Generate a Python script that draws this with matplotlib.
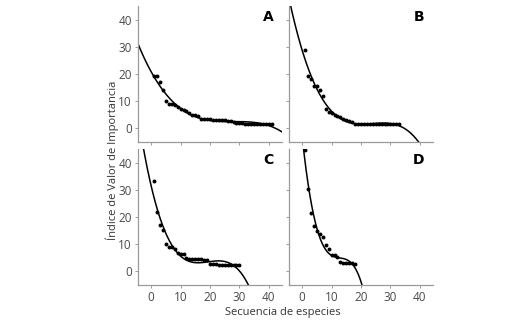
import numpy as np
import matplotlib
matplotlib.use("Agg")
import matplotlib.pyplot as plt

plt.rcParams['font.family'] = ['Open Sans', 'DejaVu Sans']

x_a = list(range(1, 42))
y_a = [19.4, 19.3, 17.0, 14.0, 10.0, 9.0, 8.8, 8.6, 7.8, 7.3,
       6.8, 6.3, 5.5, 5.0, 4.8, 4.6, 3.6, 3.5, 3.4, 3.3,
       3.2, 3.2, 3.1, 3.0, 3.0, 2.9, 2.8, 2.2, 2.0, 1.9,
       1.9, 1.8, 1.8, 1.8, 1.8, 1.7, 1.7, 1.6, 1.6, 1.6, 1.5]

x_b = list(range(1, 34))
y_b = [28.7, 19.3, 18.0, 15.5, 15.5, 14.3, 12.0, 7.0, 5.9, 5.5,
       5.0, 4.6, 4.2, 3.6, 3.2, 2.8, 2.4, 1.8, 1.7, 1.6,
       1.6, 1.6, 1.6, 1.6, 1.6, 1.6, 1.6, 1.6, 1.6, 1.6,
       1.6, 1.6, 1.6]

x_c = list(range(1, 31))
y_c = [33.4, 22.0, 17.0, 15.3, 10.2, 8.9, 8.9, 8.2, 6.9, 6.4,
       6.4, 4.9, 4.6, 4.5, 4.5, 4.5, 4.4, 4.3, 4.2, 2.9,
       2.8, 2.7, 2.5, 2.4, 2.4, 2.3, 2.3, 2.2, 2.2, 2.2]

x_d = list(range(1, 19))
y_d = [44.7, 30.4, 21.4, 16.7, 15.0, 13.6, 12.8, 9.7, 8.2, 6.2,
       6.0, 5.2, 3.5, 3.0, 3.0, 3.1, 3.1, 2.8]

panels = [("A", x_a, y_a), ("B", x_b, y_b), ("C", x_c, y_c), ("D", x_d, y_d)]

x_ticks = [0, 10, 20, 30, 40]
y_ticks = [0, 10, 20, 30, 40]

fig = plt.figure(figsize=(5.28, 3.23), dpi=100)
W, H = 528, 323
boxes = {
    "A": (138, 6, 282, 142),
    "B": (289, 6, 433, 142),
    "C": (138, 149, 282, 285),
    "D": (289, 149, 433, 285),
}
gray = "#9a9a9a"
for i, (lab, xs, ys) in enumerate(panels):
    l, t, r, b = boxes[lab]
    ax = fig.add_axes([l / W, 1 - b / H, (r - l) / W, (b - t) / H])
    ax.scatter(xs, ys, s=8, color="black", zorder=3, linewidths=0)
    coef = np.polyfit(xs, ys, 3)
    xx = np.linspace(-6, 46, 400)
    ax.plot(xx, np.polyval(coef, xx), color="black", lw=1.1)
    ax.set_xlim(-4.5, 44.5)
    ax.set_ylim(-5, 45)
    ax.set_xticks(x_ticks)
    ax.set_yticks(y_ticks)
    for s in ["top", "right"]:
        ax.spines[s].set_visible(False)
    for s in ["left", "bottom"]:
        ax.spines[s].set_color(gray)
        ax.spines[s].set_linewidth(0.9)
    ax.tick_params(length=2.5, width=0.7, color=gray, labelsize=8.5,
                   labelcolor="#4a4a4a", pad=2)
    if i in (0, 1):
        ax.tick_params(labelbottom=False)
    if i in (1, 3):
        ax.tick_params(labelleft=False)
    ax.text(0.94, 0.97, lab, transform=ax.transAxes, ha="right", va="top",
            fontsize=10, fontweight="bold", family="DejaVu Sans")

fig.text(112 / W, 1 - 160 / H, "Índice de Valor de Importancia", rotation=90,
         ha="center", va="center", fontsize=8, color="#333333")
fig.text(283 / W, 1 - 312 / H, "Secuencia de especies", ha="center",
         va="center", fontsize=8, color="#333333")

fig.savefig("out.png", dpi=100)
